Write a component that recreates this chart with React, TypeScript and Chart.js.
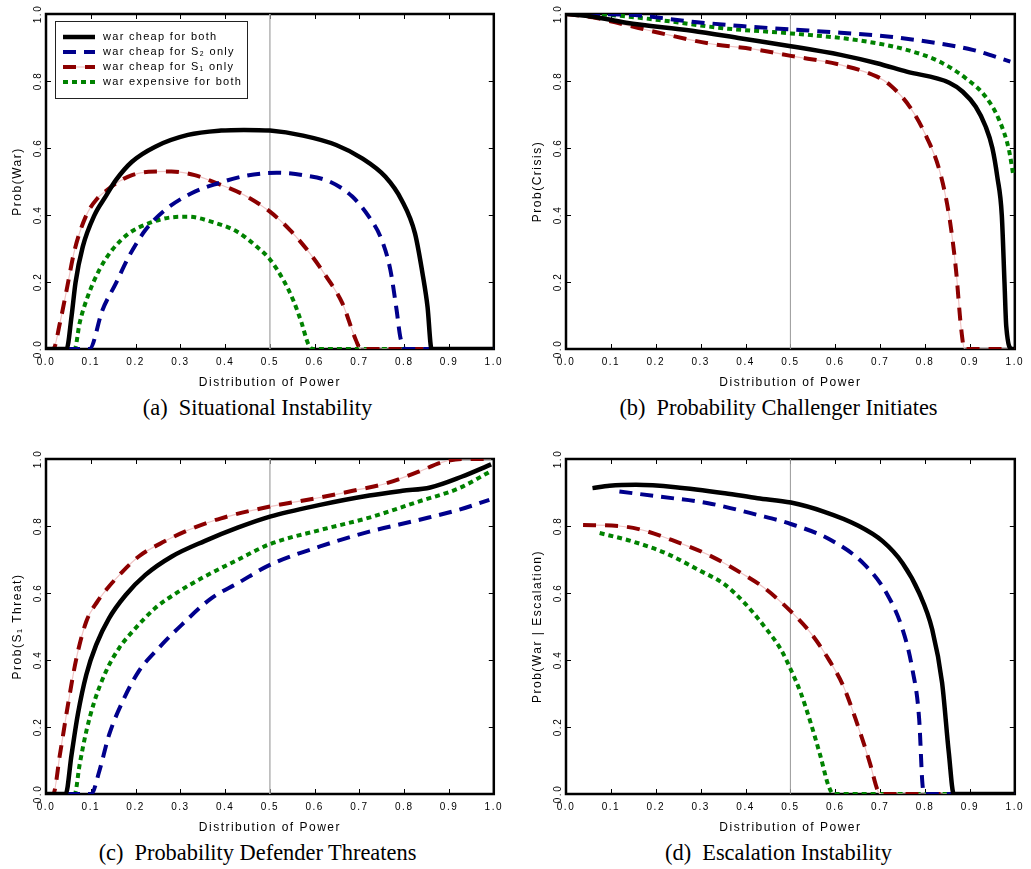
import React, { useEffect, useRef } from "react";
import { Chart, registerables } from "chart.js";
Chart.register(...registerables);

// ---------- data ----------
const xTicksStep = 0.1;
const yTicksStep = 0.2;
const refLineX = [0.5, 0.5];
const refLineY = [0, 1];

const seriesLabels = [
  "war cheap for both",
  "war cheap for S\u2082 only",
  "war cheap for S\u2081 only",
  "war expensive for both",
];

// (a) Situational Instability
const aBothX = [0, 0.046, 0.057, 0.066, 0.082, 0.108, 0.134, 0.156, 0.192, 0.244, 0.317, 0.391, 0.442, 0.5, 0.574, 0.648, 0.706, 0.758, 0.794, 0.824, 0.842, 0.852, 0.861, 1.0];
const aBothY = [0, 0, 0.097, 0.199, 0.305, 0.399, 0.457, 0.504, 0.559, 0.604, 0.639, 0.652, 0.654, 0.652, 0.637, 0.609, 0.569, 0.514, 0.445, 0.345, 0.216, 0.126, 0, 0];
const aS2X = [0, 0.097, 0.126, 0.156, 0.185, 0.222, 0.266, 0.325, 0.383, 0.442, 0.515, 0.574, 0.633, 0.684, 0.721, 0.75, 0.769, 0.783, 0.791, 0.802, 1.0];
const aS2Y = [0, 0, 0.116, 0.196, 0.276, 0.355, 0.415, 0.465, 0.494, 0.516, 0.526, 0.519, 0.5, 0.455, 0.395, 0.325, 0.236, 0.116, 0.037, 0, 0];
const aS1X = [0, 0.016, 0.031, 0.046, 0.064, 0.09, 0.115, 0.137, 0.163, 0.192, 0.229, 0.28, 0.332, 0.383, 0.442, 0.5, 0.545, 0.589, 0.626, 0.662, 0.692, 0.703, 1.0];
const aS1Y = [0, 0, 0.077, 0.176, 0.296, 0.399, 0.45, 0.475, 0.5, 0.519, 0.529, 0.53, 0.519, 0.494, 0.46, 0.41, 0.355, 0.286, 0.216, 0.136, 0.027, 0, 0];
const aExpX = [0, 0.064, 0.075, 0.093, 0.119, 0.148, 0.185, 0.229, 0.28, 0.317, 0.369, 0.427, 0.471, 0.501, 0.53, 0.552, 0.571, 0.585, 0.596, 1.0];
const aExpY = [0, 0, 0.077, 0.156, 0.236, 0.296, 0.345, 0.375, 0.393, 0.395, 0.38, 0.35, 0.305, 0.266, 0.206, 0.146, 0.077, 0.017, 0, 0];

// (b) Probability Challenger Initiates
const bBothX = [0, 0.06, 0.134, 0.281, 0.391, 0.501, 0.612, 0.693, 0.759, 0.854, 0.884, 0.913, 0.935, 0.95, 0.961, 0.971, 0.977, 0.981, 0.994, 1.0];
const bBothY = [1, 0.992, 0.974, 0.95, 0.927, 0.904, 0.878, 0.853, 0.828, 0.795, 0.768, 0.723, 0.664, 0.6, 0.514, 0.4, 0.2, 0.067, 0, 0];
const bS2X = [0, 0.134, 0.281, 0.391, 0.501, 0.612, 0.722, 0.832, 0.906, 0.99];
const bS2Y = [1, 0.998, 0.977, 0.964, 0.954, 0.944, 0.932, 0.912, 0.893, 0.858];
const bS1X = [0, 0.06, 0.134, 0.207, 0.318, 0.428, 0.501, 0.612, 0.693, 0.722, 0.766, 0.803, 0.832, 0.854, 0.869, 0.88, 0.888, 1.0];
const bS1Y = [1, 0.99, 0.967, 0.944, 0.912, 0.893, 0.875, 0.848, 0.813, 0.788, 0.723, 0.634, 0.534, 0.395, 0.236, 0.067, 0, 0];
const bExpX = [0, 0.097, 0.207, 0.354, 0.501, 0.649, 0.759, 0.832, 0.891, 0.935, 0.965, 0.987, 0.996];
const bExpY = [1, 0.997, 0.982, 0.957, 0.942, 0.922, 0.893, 0.858, 0.808, 0.753, 0.684, 0.594, 0.524];

// (c) Probability Defender Threatens
const cBothX = [0, 0.044, 0.057, 0.071, 0.09, 0.112, 0.141, 0.178, 0.222, 0.281, 0.354, 0.428, 0.5, 0.612, 0.722, 0.796, 0.858, 0.928, 0.994];
const cBothY = [0, 0, 0.117, 0.237, 0.356, 0.445, 0.525, 0.594, 0.654, 0.709, 0.755, 0.795, 0.828, 0.863, 0.891, 0.905, 0.915, 0.947, 0.984];
const cS2X = [0, 0.101, 0.119, 0.141, 0.171, 0.207, 0.251, 0.303, 0.369, 0.428, 0.5, 0.612, 0.722, 0.832, 0.921, 0.99];
const cS2Y = [0, 0, 0.068, 0.177, 0.276, 0.366, 0.435, 0.505, 0.584, 0.629, 0.684, 0.739, 0.783, 0.818, 0.848, 0.878];
const cS1X = [0, 0.016, 0.031, 0.049, 0.068, 0.09, 0.115, 0.134, 0.171, 0.207, 0.266, 0.318, 0.391, 0.5, 0.612, 0.685, 0.759, 0.832, 0.884, 0.928, 0.994];
const cS1Y = [0, 0, 0.117, 0.266, 0.406, 0.515, 0.575, 0.609, 0.664, 0.709, 0.755, 0.788, 0.823, 0.858, 0.885, 0.905, 0.927, 0.962, 0.99, 1.0, 1.0];
const cExpX = [0, 0.064, 0.075, 0.09, 0.108, 0.134, 0.163, 0.2, 0.244, 0.296, 0.354, 0.428, 0.5, 0.612, 0.722, 0.832, 0.921, 0.994];
const cExpY = [0, 0, 0.087, 0.187, 0.276, 0.366, 0.435, 0.495, 0.555, 0.604, 0.649, 0.699, 0.746, 0.788, 0.825, 0.873, 0.912, 0.964];

// (d) Escalation Instability
const dBothX = [0.059, 0.097, 0.156, 0.244, 0.354, 0.427, 0.501, 0.574, 0.648, 0.706, 0.75, 0.787, 0.816, 0.838, 0.853, 0.864, 1.0];
const dBothY = [0.913, 0.92, 0.923, 0.916, 0.898, 0.883, 0.87, 0.843, 0.803, 0.754, 0.689, 0.6, 0.491, 0.332, 0.123, 0, 0];
const dS2X = [0.119, 0.207, 0.317, 0.427, 0.501, 0.589, 0.662, 0.714, 0.75, 0.772, 0.787, 0.794, 0.798, 1.0];
const dS2Y = [0.903, 0.888, 0.868, 0.833, 0.806, 0.759, 0.689, 0.6, 0.491, 0.371, 0.222, 0.034, 0, 0];
const dS1X = [0.038, 0.119, 0.17, 0.244, 0.317, 0.391, 0.442, 0.501, 0.545, 0.581, 0.618, 0.648, 0.677, 0.695, 0.703, 1.0];
const dS1Y = [0.803, 0.8, 0.788, 0.754, 0.714, 0.659, 0.615, 0.545, 0.481, 0.411, 0.322, 0.213, 0.093, 0.009, 0, 0];
const dExpX = [0.075, 0.148, 0.222, 0.295, 0.354, 0.398, 0.442, 0.479, 0.501, 0.523, 0.545, 0.567, 0.585, 0.596, 1.0];
const dExpY = [0.779, 0.754, 0.719, 0.669, 0.625, 0.57, 0.5, 0.431, 0.371, 0.302, 0.213, 0.113, 0.024, 0, 0];

// ---------- styles ----------
const SANS = "'Liberation Sans', Arial, sans-serif";
const SERIF = "'Liberation Serif', 'Times New Roman', serif";
const STYLES = [
  { color: "#000000", dash: [] as number[], width: 4.5 },
  { color: "#00008c", dash: [13, 8], width: 4 },
  { color: "#8c0000", dash: [13, 9], width: 4, underlay: "#f0c4c4" },
  { color: "#008200", dash: [5, 4], width: 4 },
];

const pts = (xs: number[], ys: number[]) => xs.map((x, i) => ({ x, y: ys[i] }));

function buildDatasets(series: [number[], number[]][], refColor: string, refWidth: number) {
  const ds: any[] = [];
  series.forEach(([xs, ys], i) => {
    const st = STYLES[i];
    ds.push({
      label: seriesLabels[i],
      data: pts(xs, ys),
      borderColor: st.color,
      borderDash: st.dash,
      borderWidth: st.width,
      underlay: (st as any).underlay,
      cubicInterpolationMode: "monotone",
      fill: false,
      pointRadius: 0,
    });
    if ((st as any).underlay) {
      ds.push({
        label: "",
        data: pts(xs, ys),
        borderColor: (st as any).underlay,
        borderWidth: 1.2,
        cubicInterpolationMode: "monotone",
        fill: false,
        pointRadius: 0,
      });
    }
  });
  ds.push({
    label: "",
    data: pts(refLineX, refLineY),
    borderColor: refColor,
    borderWidth: refWidth,
    fill: false,
    pointRadius: 0,
  });
  return ds;
}

// ---------- plugins ----------
const spacingPlugin = {
  id: "spacing",
  beforeUpdate(chart: any) {
    chart.ctx.letterSpacing = "1.5px";
  },
  beforeDraw(chart: any) {
    chart.ctx.letterSpacing = "1.5px";
  },
};

const framePlugin = {
  id: "frame",
  beforeDatasetsDraw(chart: any) {
    const { ctx, chartArea: a, scales } = chart;
    ctx.save();
    ctx.strokeStyle = "#000";
    ctx.lineWidth = 1;
    ctx.beginPath();
    scales.x.ticks.forEach((t: any) => {
      const p = Math.round(scales.x.getPixelForValue(t.value)) + 0.5;
      ctx.moveTo(p, a.bottom);
      ctx.lineTo(p, a.bottom - 5);
      ctx.moveTo(p, a.top);
      ctx.lineTo(p, a.top + 5);
    });
    scales.y.ticks.forEach((t: any) => {
      const p = Math.round(scales.y.getPixelForValue(t.value)) + 0.5;
      ctx.moveTo(a.left, p);
      ctx.lineTo(a.left + 5, p);
      ctx.moveTo(a.right, p);
      ctx.lineTo(a.right - 5, p);
    });
    ctx.stroke();
    ctx.lineWidth = 2.5;
    ctx.strokeRect(a.left, a.top, a.right - a.left, a.bottom - a.top);
    ctx.restore();
  },
};

const legendPlugin = {
  id: "boxLegend",
  afterDatasetsDraw(chart: any) {
    const { ctx, chartArea: a } = chart;
    const items = chart.data.datasets.filter((d: any) => d.label);
    const bx = a.left + 9;
    const by = a.top + 7;
    const bw = 192;
    const bh = 77;
    ctx.save();
    ctx.fillStyle = "#fff";
    ctx.fillRect(bx, by, bw, bh);
    ctx.strokeStyle = "#222";
    ctx.lineWidth = 1;
    ctx.strokeRect(bx + 0.5, by + 0.5, bw, bh);
    items.forEach((d: any, i: number) => {
      const y = by + 16 + i * 15;
      const x0 = bx + 8;
      const x1 = bx + 40;
      if (d.underlay) {
        ctx.setLineDash([]);
        ctx.strokeStyle = d.underlay;
        ctx.lineWidth = 1.2;
        ctx.beginPath();
        ctx.moveTo(x0, y);
        ctx.lineTo(x1, y);
        ctx.stroke();
      }
      ctx.setLineDash(d.borderDash || []);
      ctx.strokeStyle = d.borderColor;
      ctx.lineWidth = d.borderWidth;
      ctx.lineCap = "butt";
      ctx.beginPath();
      ctx.moveTo(x0, y);
      ctx.lineTo(x1, y);
      ctx.stroke();
      ctx.setLineDash([]);
      (ctx as any).letterSpacing = "1.3px";
      ctx.fillStyle = "#000";
      ctx.font = `11px ${SANS}`;
      ctx.textBaseline = "middle";
      ctx.textAlign = "left";
      ctx.fillText(d.label, bx + 48, y);
    });
    ctx.restore();
  },
};

// ---------- chart config ----------
function makeConfig(datasets: any[], yTitle: string, padRight: number, withLegend: boolean) {
  const tickFont = { family: SANS, size: 10 };
  const titleFont = { family: SANS, size: 12 };
  return {
    type: "line" as const,
    data: { datasets },
    options: {
      responsive: false,
      animation: false,
      devicePixelRatio: 1,
      layout: { padding: { left: 0, top: 14, right: padRight, bottom: 0 } },
      plugins: {
        legend: { display: false },
        tooltip: { enabled: false },
        title: { display: false },
      },
      elements: {
        point: { radius: 0 },
        line: { borderCapStyle: "butt", borderJoinStyle: "round" },
      },
      scales: {
        x: {
          type: "linear",
          min: 0,
          max: 1,
          afterFit: (s: any) => {
            s.height = 46;
          },
          ticks: {
            stepSize: xTicksStep,
            padding: 7,
            maxRotation: 0,
            autoSkip: false,
            color: "#000",
            font: tickFont,
            callback: (v: any) => Number(v).toFixed(1),
          },
          grid: { display: false, drawTicks: false },
          border: { display: false },
          title: {
            display: true,
            text: "Distribution of Power",
            color: "#000",
            font: titleFont,
            padding: { top: 0, bottom: 4.8 },
          },
        },
        y: {
          type: "linear",
          min: 0,
          max: 1,
          afterFit: (s: any) => {
            s.width = 46;
          },
          ticks: {
            stepSize: yTicksStep,
            padding: -1,
            minRotation: 90,
            maxRotation: 90,
            crossAlign: "center",
            color: "#000",
            font: tickFont,
            callback: (v: any) => Number(v).toFixed(1),
          },
          grid: { display: false, drawTicks: false },
          border: { display: false },
          title: {
            display: true,
            text: yTitle,
            color: "#000",
            font: titleFont,
            padding: { top: 10, bottom: 0 },
          },
        },
      },
    },
    plugins: withLegend ? [spacingPlugin, framePlugin, legendPlugin] : [spacingPlugin, framePlugin],
  };
}

function Panel(props: { left: number; top: number; width: number; height: number; config: () => any }) {
  const ref = useRef<HTMLCanvasElement>(null);
  useEffect(() => {
    const chart = new Chart(ref.current as HTMLCanvasElement, props.config());
    return () => chart.destroy();
  }, []);
  return (
    <canvas
      ref={ref}
      width={props.width}
      height={props.height}
      style={{ position: "absolute", left: props.left, top: props.top, width: props.width, height: props.height }}
    />
  );
}

function Caption(props: { center: number; top: number; tag: string; text: string }) {
  return (
    <div
      style={{
        position: "absolute",
        left: props.center - 300,
        width: 600,
        top: props.top,
        textAlign: "center",
        fontFamily: SERIF,
        fontSize: 22.4,
        lineHeight: "26px",
        whiteSpace: "nowrap",
        color: "#000",
      }}
    >
      <span>{props.tag}</span>
      <span style={{ marginLeft: 11 }}>{props.text}</span>
    </div>
  );
}

export default function App() {
  return (
    <div style={{ position: "absolute", left: 0, top: 0, width: 1031, height: 869, background: "#fff", overflow: "hidden" }}>
      <Panel
        left={0}
        top={0}
        width={510}
        height={395}
        config={() =>
          makeConfig(
            buildDatasets([[aBothX, aBothY], [aS2X, aS2Y], [aS1X, aS1Y], [aExpX, aExpY]], "#b4b4b4", 1.5),
            "Prob(War)",
            10,
            true
          )
        }
      />
      <Panel
        left={520}
        top={0}
        width={511}
        height={395}
        config={() =>
          makeConfig(
            buildDatasets([[bBothX, bBothY], [bS2X, bS2Y], [bS1X, bS1Y], [bExpX, bExpY]], "#999999", 1),
            "Prob(Crisis)",
            12,
            false
          )
        }
      />
      <Panel
        left={0}
        top={445}
        width={510}
        height={395}
        config={() =>
          makeConfig(
            buildDatasets([[cBothX, cBothY], [cS2X, cS2Y], [cS1X, cS1Y], [cExpX, cExpY]], "#b4b4b4", 1.5),
            "Prob(S\u2081 Threat)",
            10,
            false
          )
        }
      />
      <Panel
        left={520}
        top={445}
        width={511}
        height={395}
        config={() =>
          makeConfig(
            buildDatasets([[dBothX, dBothY], [dS2X, dS2Y], [dS1X, dS1Y], [dExpX, dExpY]], "#999999", 1),
            "Prob(War | Escalation)",
            12,
            false
          )
        }
      />
      <Caption center={257.5} top={395} tag="(a)" text="Situational Instability" />
      <Caption center={778.5} top={395} tag="(b)" text="Probability Challenger Initiates" />
      <Caption center={257.5} top={840} tag="(c)" text="Probability Defender Threatens" />
      <Caption center={778.5} top={840} tag="(d)" text="Escalation Instability" />
    </div>
  );
}
